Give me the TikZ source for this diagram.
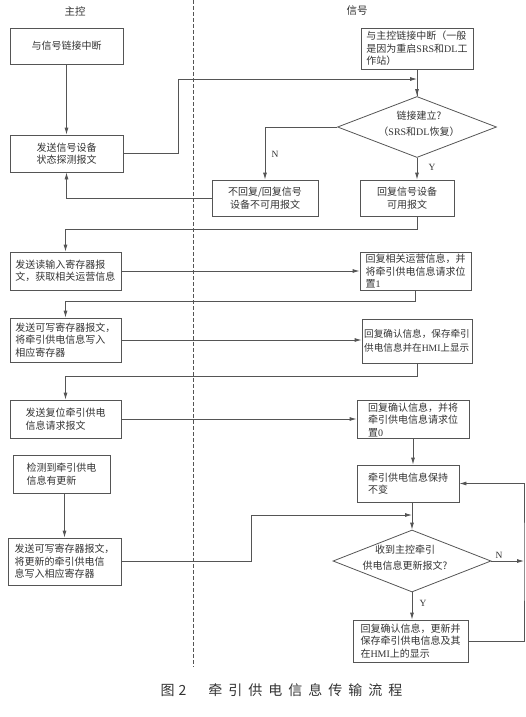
\documentclass[tikz,border=0pt]{standalone}
\usepackage{fontspec}
\setmainfont{Noto Sans CJK SC}
\newfontfamily\lat{Liberation Serif}
\usetikzlibrary{arrows.meta,shapes.geometric}
\definecolor{linec}{HTML}{555555}
\definecolor{txtc}{HTML}{333333}
\begin{document}
\begin{tikzpicture}[x=1pt,y=-1pt,
  line/.style={draw=linec, line width=0.8pt},
  arr/.style={line, -{Latex[length=7pt,width=4pt]}},
  box/.style={draw=linec, line width=0.8pt, rectangle, inner sep=2pt, align=left,
    font=\fontsize{10}{12.5}\selectfont, text=txtc},
  diam/.style={draw=linec, line width=0.8pt, diamond, inner sep=0pt},
  dtext/.style={align=center, font=\fontsize{10}{16}\selectfont, text=txtc},
  lbl/.style={font=\lat\fontsize{9.5}{11}\selectfont, text=txtc},
  head/.style={font=\fontsize{10.5}{12}\selectfont, text=txtc},
  lane/.style={draw=linec, line width=0.6pt, dash pattern=on 4pt off 2pt}]
\useasboundingbox (0,0) rectangle (525,717);

% lanes
\node[head] (hmain) at (75,11) {主控};
\node[head] (hsig) at (357,11) {信号};
\coordinate (dtop) at (193,0);
\coordinate (dbot) at (193,667);
\draw[lane] (dtop) -- (dbot);

% left column
\node[box, minimum width=113pt, minimum height=36pt] (L1) at (66.5,46) {与信号链接中断};
\node[box, minimum width=113pt, minimum height=37pt, align=center] (L2) at (66.5,153.5) {发送信号设备\\状态探测报文};
\node[box, minimum width=111pt, minimum height=38pt] (L3) at (65.5,271) {发送读输入寄存器报\\文，获取相关运营信息};
\node[box, minimum width=111pt, minimum height=44pt] (L4) at (65.5,340) {发送可写寄存器报文，\\将牵引供电信息写入\\相应寄存器};
\node[box, minimum width=111pt, minimum height=38pt] (L5) at (65.5,419) {发送复位牵引供电\\信息请求报文};
\node[box, minimum width=97pt, minimum height=38pt] (L6) at (61.5,474) {检测到牵引供电\\信息有更新};
\node[box, minimum width=113pt, minimum height=47pt] (L7) at (64.5,561.5) {发送可写寄存器报文，\\将更新的牵引供电信\\息写入相应寄存器};

% right column
\node[box, minimum width=112pt, minimum height=41pt] (R1) at (417,48.5) {与主控链接中断（一般\\是因为重启{\lat SRS}和{\lat DL}工\\作站）};
\node[diam, minimum width=159pt, minimum height=61pt] (d1) at (417,127) {};
\node[dtext] (d1t) at (419,124) {链接建立?\\（{\lat SRS}和{\lat DL}恢复）};
\node[box, minimum width=106pt, minimum height=36pt, align=center] (NB) at (265,198) {不回复/回复信号\\设备不可用报文};
\node[box, minimum width=94pt, minimum height=36pt, align=center] (YB) at (407,198) {回复信号设备\\可用报文};
\node[box, minimum width=111pt, minimum height=38pt] (R3) at (415.5,271) {回复相关运营信息，并\\将牵引供电信息请求位\\置{\lat 1}};
\node[box, minimum width=110pt, minimum height=44pt, font=\fontsize{9.6}{14}\selectfont] (R4) at (417,341) {回复确认信息，保存牵引\\供电信息并在{\lat HMI}上显示};
\node[box, minimum width=112pt, minimum height=37pt] (R5) at (413,419.5) {回复确认信息，并将\\牵引供电信息请求位\\置{\lat 0}};
\node[box, minimum width=102pt, minimum height=37pt] (R6) at (408,483.5) {牵引供电信息保持\\不变\phantom{供电信息保持}};
\node[diam, minimum width=158pt, minimum height=62pt] (d2) at (412,561) {};
\node[dtext] (d2t) at (405,558) {收到主控牵引\\供电信息更新报文?};
\node[box, minimum width=115pt, minimum height=42pt] (R7) at (410.5,641) {回复确认信息，更新并\\保存牵引供电信息及其\\在{\lat HMI}上的显示};

\coordinate (j1) at (417,79);
\coordinate (j2) at (412,515);
\coordinate (lp) at (524,561);

% connectors
\draw[arr] (L1) -- (L2);
\draw[line] (R1) -- (d1);
\draw[arr] (R1.south) -- (d1.north);
\draw[arr] (L2.east) -- ++(55,0) |- (j1);
\draw[arr] (d1.west) -| (NB.north);
\node[lbl] (nl1) at (275,154) {N};
\draw[arr] (d1.south) -- (d1.south |- YB.north);
\node[lbl] (yl1) at (432,167) {Y};
\draw[arr] (NB.west) -| (L2.south);
\draw[arr] (YB.south -| d1.south) -- ++(0,13) -| (L3.north);
\draw[arr] (L3.east) -- (R3.west);
\draw[arr] (R3.south) -- ++(0,11) -| (L4.north);
\draw[arr] (L4.east) -- (L4.east -| R4.west);
\draw[arr] (R4.south) -- ++(0,13) -| (L5.north);
\draw[arr] (L5.east) -- (L5.east -| R5.west);
\draw[arr] (R5.south) -- (R5.south |- R6.north);
\draw[arr] (L6.south -| L7.north) -- (L7.north);
\draw[arr] (R6.south -| d2.north) -- (d2.north);
\draw[arr] (L7.east) -- ++(130,0) |- (j2);
\draw[arr] (d2.south) -- (d2.south |- R7.north);
\node[lbl] (yl2) at (423,603) {Y};
\draw[arr] (d2.east) -- (lp);
\node[lbl] (nl2) at (499,555) {N};
\draw[arr] (R7.east) -| (lp) |- (R6.east);

% caption
\node[anchor=west, font=\fontsize{14}{16}\selectfont, text=txtc] (cap) at (157,690)
  {图\hspace{4pt}2\hspace{22pt}牵\hspace{6pt}引\hspace{6pt}供\hspace{6pt}电\hspace{6pt}信\hspace{6pt}息\hspace{6pt}传\hspace{6pt}输\hspace{6pt}流\hspace{6pt}程};
\end{tikzpicture}
\end{document}
